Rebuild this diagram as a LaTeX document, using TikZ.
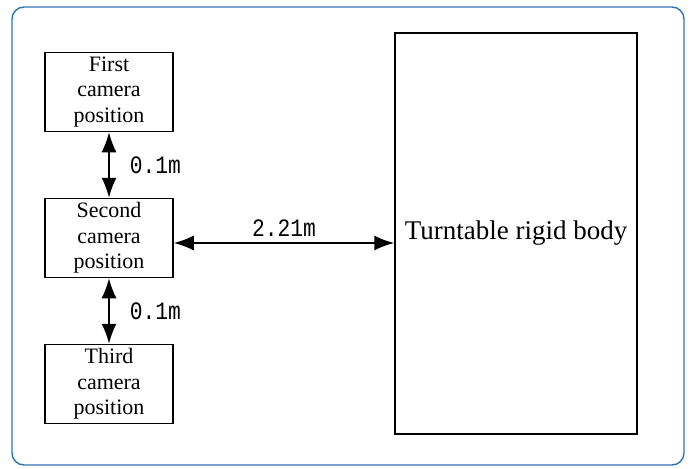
\documentclass[tikz,border=0pt]{standalone}
\usepackage{fontspec}
\setmainfont{Liberation Serif}
\newfontfamily\dimfont[FakeStretch=0.85]{Liberation Mono}
\usetikzlibrary{arrows.meta}
\tikzset{
  frame/.style={draw={rgb,255:red,46;green,117;blue,182}, line width=1.4pt, rounded corners=12pt},
  cambox/.style={draw, line width=1.5pt, minimum width=128pt, minimum height=79pt, inner sep=0pt,
    align=center, font=\fontsize{22}{25.5}\selectfont},
  bodybox/.style={draw, line width=1.5pt, minimum width=242pt, minimum height=401pt, inner sep=0pt,
    font=\fontsize{27}{30}\selectfont},
  dimarrow/.style={line width=1.6pt, {Latex[length=20pt,width=15pt]}-{Latex[length=20pt,width=15pt]}},
  dimlabel/.style={font=\dimfont\fontsize{25}{27}\selectfont, inner sep=0pt}
}
\begin{document}
\begin{tikzpicture}[x=1pt,y=-1pt]
\useasboundingbox (0,0) rectangle (692,468);
\draw[frame] (12,7) rectangle (684,465);
\node[cambox] (first)  at (109,92)  {First\\camera\\position};
\node[cambox] (second) at (109,238) {Second\\camera\\position};
\node[cambox] (third)  at (109,384) {Third\\camera\\position};
\node[bodybox] (body) at (516,233.5) {Turntable rigid body};
\draw[dimarrow] (first.south) -- (second.north) node[midway, right=20pt, dimlabel] {0.1m};
\draw[dimarrow] (second.south) -- (third.north) node[midway, right=20pt, dimlabel] {0.1m};
\coordinate (bodyleft) at (body.west |- 0,243);
\draw[dimarrow] (second.east |- bodyleft) -- (bodyleft) node[midway, above=6pt, dimlabel] {2.21m};
\end{tikzpicture}
\end{document}
